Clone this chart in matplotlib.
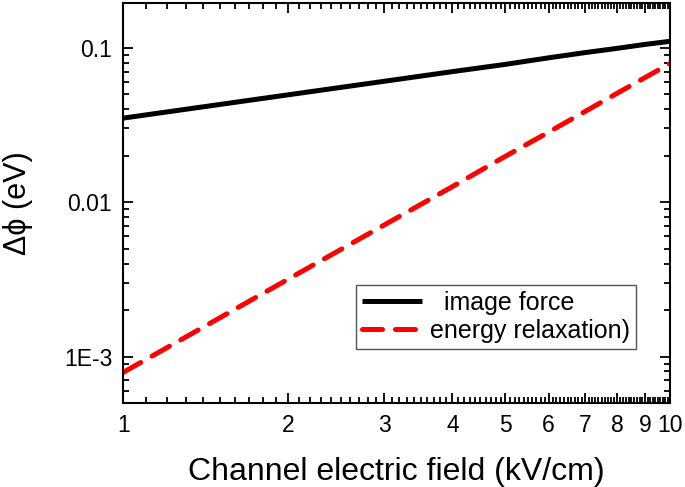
import numpy as np
import matplotlib
matplotlib.use("Agg")
import matplotlib.pyplot as plt
from matplotlib.ticker import FixedLocator, NullFormatter

field = [1, 2, 3, 4, 5, 6, 7, 8, 9, 10]
image_force = [0.035, 0.0495, 0.0606, 0.070, 0.078, 0.086, 0.093, 0.099, 0.105, 0.110]
energy_relax = [7.9e-4, 3.16e-3, 7.1e-3, 0.0126, 0.0198, 0.0284, 0.0387, 0.0506, 0.064, 0.079]

x_ticks = [1, 2, 3, 4, 5, 6, 7, 8, 9, 10]
x_tick_labels = ["1", "2", "3", "4", "5", "6", "7", "8", "9", "10"]
y_ticks = [1e-3, 1e-2, 1e-1]
y_tick_labels = ["1E-3", "0.01", "0.1"]

plt.rcParams["font.family"] = ["Liberation Sans", "DejaVu Sans"]

fig = plt.figure(figsize=(6.85, 4.87), dpi=100)
ax = fig.add_axes([0.18, 0.1725, 0.798, 0.8215])

ax.plot(field, image_force, color="black", lw=3.6, solid_capstyle="butt",
        label="  image force")
ax.plot(field, energy_relax, color="#ff0000", lw=3.6, dashes=(4, 2.6),
        dash_capstyle="round", label="energy relaxation)")

ax.set_xscale("log")
ax.set_yscale("log")
ax.set_xlim(1, 10)
ax.set_ylim(5.0e-4, 0.195)

ax.xaxis.set_major_locator(FixedLocator(x_ticks))
ax.set_xticklabels(x_tick_labels)
minor_x = [a / 10 for a in range(11, 100) if a % 10 != 0]
ax.xaxis.set_minor_locator(FixedLocator(minor_x))
ax.xaxis.set_minor_formatter(NullFormatter())

ax.yaxis.set_major_locator(FixedLocator(y_ticks))
ax.set_yticklabels(y_tick_labels)
minor_y = [m * d for d in [1e-4, 1e-3, 1e-2, 1e-1] for m in range(2, 10)]
ax.yaxis.set_minor_locator(FixedLocator(minor_y))
ax.yaxis.set_minor_formatter(NullFormatter())

ax.tick_params(which="both", direction="in", top=True, right=True, width=1.3)
ax.tick_params(which="major", length=7, labelsize=16.5, pad=8)
ax.tick_params(which="minor", length=4)
for sp in ax.spines.values():
    sp.set_linewidth(1.5)

ax.set_xlabel("Channel electric field (kV/cm)", fontsize=23, labelpad=14)
ax.set_ylabel("\u0394\u03d5 (eV)", fontsize=22, labelpad=22)

leg = ax.legend(loc="lower right", bbox_to_anchor=(0.938, 0.135), fontsize=18,
                fancybox=False, framealpha=1, edgecolor="#555555",
                handlelength=2.4, borderpad=0.25, labelspacing=0.15,
                handletextpad=0.3, borderaxespad=0)
leg.get_frame().set_linewidth(1.0)

fig.savefig("out.png", dpi=100)
